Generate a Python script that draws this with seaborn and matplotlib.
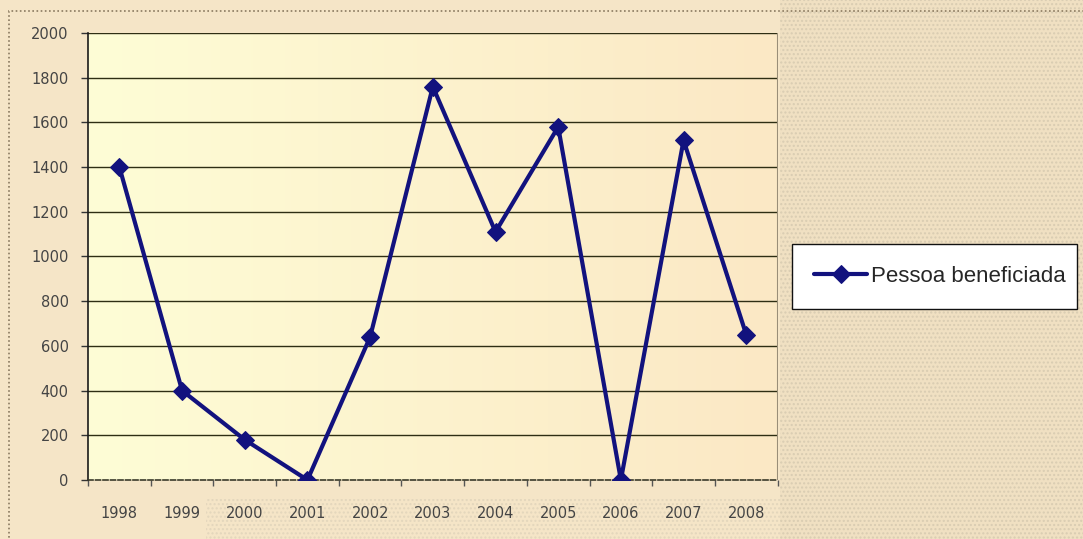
import numpy as np
import pandas as pd
import matplotlib
matplotlib.use("Agg")
import matplotlib.pyplot as plt
from matplotlib.patches import Rectangle
import seaborn as sns

# values
years = ["1998", "1999", "2000", "2001", "2002", "2003", "2004", "2005", "2006", "2007", "2008"]
beneficiados = [1400, 400, 180, 0, 640, 1760, 1110, 1580, 0, 1520, 650]
y_ticks = [0, 200, 400, 600, 800, 1000, 1200, 1400, 1600, 1800, 2000]
series_name = "Pessoa beneficiada"

df = pd.DataFrame({"Ano": years, "Valor": beneficiados})

sns.set_style("white")
plt.rcParams["font.family"] = ["Liberation Sans", "DejaVu Sans"]

fig = plt.figure(figsize=(10.83, 5.39), dpi=100)
fig.patch.set_facecolor("#F5E5C7")

# dotted texture on the right side and along the bottom of the chart area
fig.patches.append(Rectangle((0.72, 0.0), 0.28, 1.0, transform=fig.transFigure,
                             facecolor="#F0E0C2", edgecolor="#D9CCB2", hatch="....",
                             linewidth=0, zorder=-1))
fig.patches.append(Rectangle((0.19, 0.0), 0.53, 0.075, transform=fig.transFigure,
                             facecolor="#F5E5C7", edgecolor="#E3D6BC", hatch="....",
                             linewidth=0, zorder=-1))
# dotted outer border
fig.patches.append(Rectangle((0.008, -0.01), 1.0, 0.99, transform=fig.transFigure,
                             fill=False, edgecolor="#8A7A60", linestyle=(0, (1, 1.5)),
                             linewidth=1.2, zorder=0))

ax = fig.add_axes([0.0813, 0.1095, 0.6367, 0.8293])

# pale yellow gradient plot area
grad = np.linspace(0, 1, 256).reshape(1, -1)
cmap = matplotlib.colors.LinearSegmentedColormap.from_list("bg", ["#FEFDD6", "#FBE8C5"])
ax.imshow(grad, extent=[0, 1, 0, 1], transform=ax.transAxes, aspect="auto",
          cmap=cmap, zorder=0)

sns.lineplot(data=df, x="Ano", y="Valor", ax=ax, color="#12127E", linewidth=3.0,
             marker="D", markersize=9, markeredgecolor="#12127E", label=series_name,
             zorder=3, sort=False)

ax.set_xlim(-0.5, len(years) - 0.5)
ax.set_ylim(0, 2000)
ax.set_yticks(y_ticks)
ax.set_yticklabels([str(v) for v in y_ticks], family="DejaVu Sans")
ax.set_xticks(range(len(years)))
ax.set_xticklabels(years, family="DejaVu Sans")
ax.set_xticks(np.arange(-0.5, len(years), 1.0), minor=True)

for v in y_ticks[1:]:
    ax.axhline(v, color="#2E2E14", linewidth=1.0, zorder=1)

ax.set_xlabel("")
ax.set_ylabel("")
for side in ["top", "right"]:
    ax.spines[side].set_visible(False)
ax.spines["left"].set_color("#1A1A1A")
ax.spines["left"].set_linewidth(1.2)
ax.spines["bottom"].set_color("#3A3A2A")
ax.spines["bottom"].set_linestyle((0, (3, 1.5)))
ax.spines["bottom"].set_linewidth(1.2)
ax.axvline(len(years) - 0.5, color="#9A8E78", linewidth=1.5, zorder=1)

ax.tick_params(axis="y", which="major", direction="out", length=5, width=1,
               color="#333333", labelsize=10.5, labelcolor="#444444", pad=9, left=True)
ax.tick_params(axis="x", which="major", length=0, labelsize=10.5,
               labelcolor="#444444", pad=19)
ax.tick_params(axis="x", which="minor", direction="out", length=4, width=1,
               color="#555555", bottom=True)

ax.get_legend().remove()
handles, labels = ax.get_legend_handles_labels()
leg = fig.legend(handles, labels, loc="center", bbox_to_anchor=(0.731, 0.4286, 0.263, 0.117),
                 frameon=True, fancybox=False, fontsize=16, handlelength=2.4,
                 handletextpad=0.15, borderpad=1.0, borderaxespad=0, mode="expand")
leg.get_frame().set_edgecolor("#111111")
leg.get_frame().set_linewidth(1.0)
leg.get_frame().set_facecolor("white")
leg.get_frame().set_alpha(1.0)

fig.savefig("out.png", dpi=100, facecolor=fig.get_facecolor())
